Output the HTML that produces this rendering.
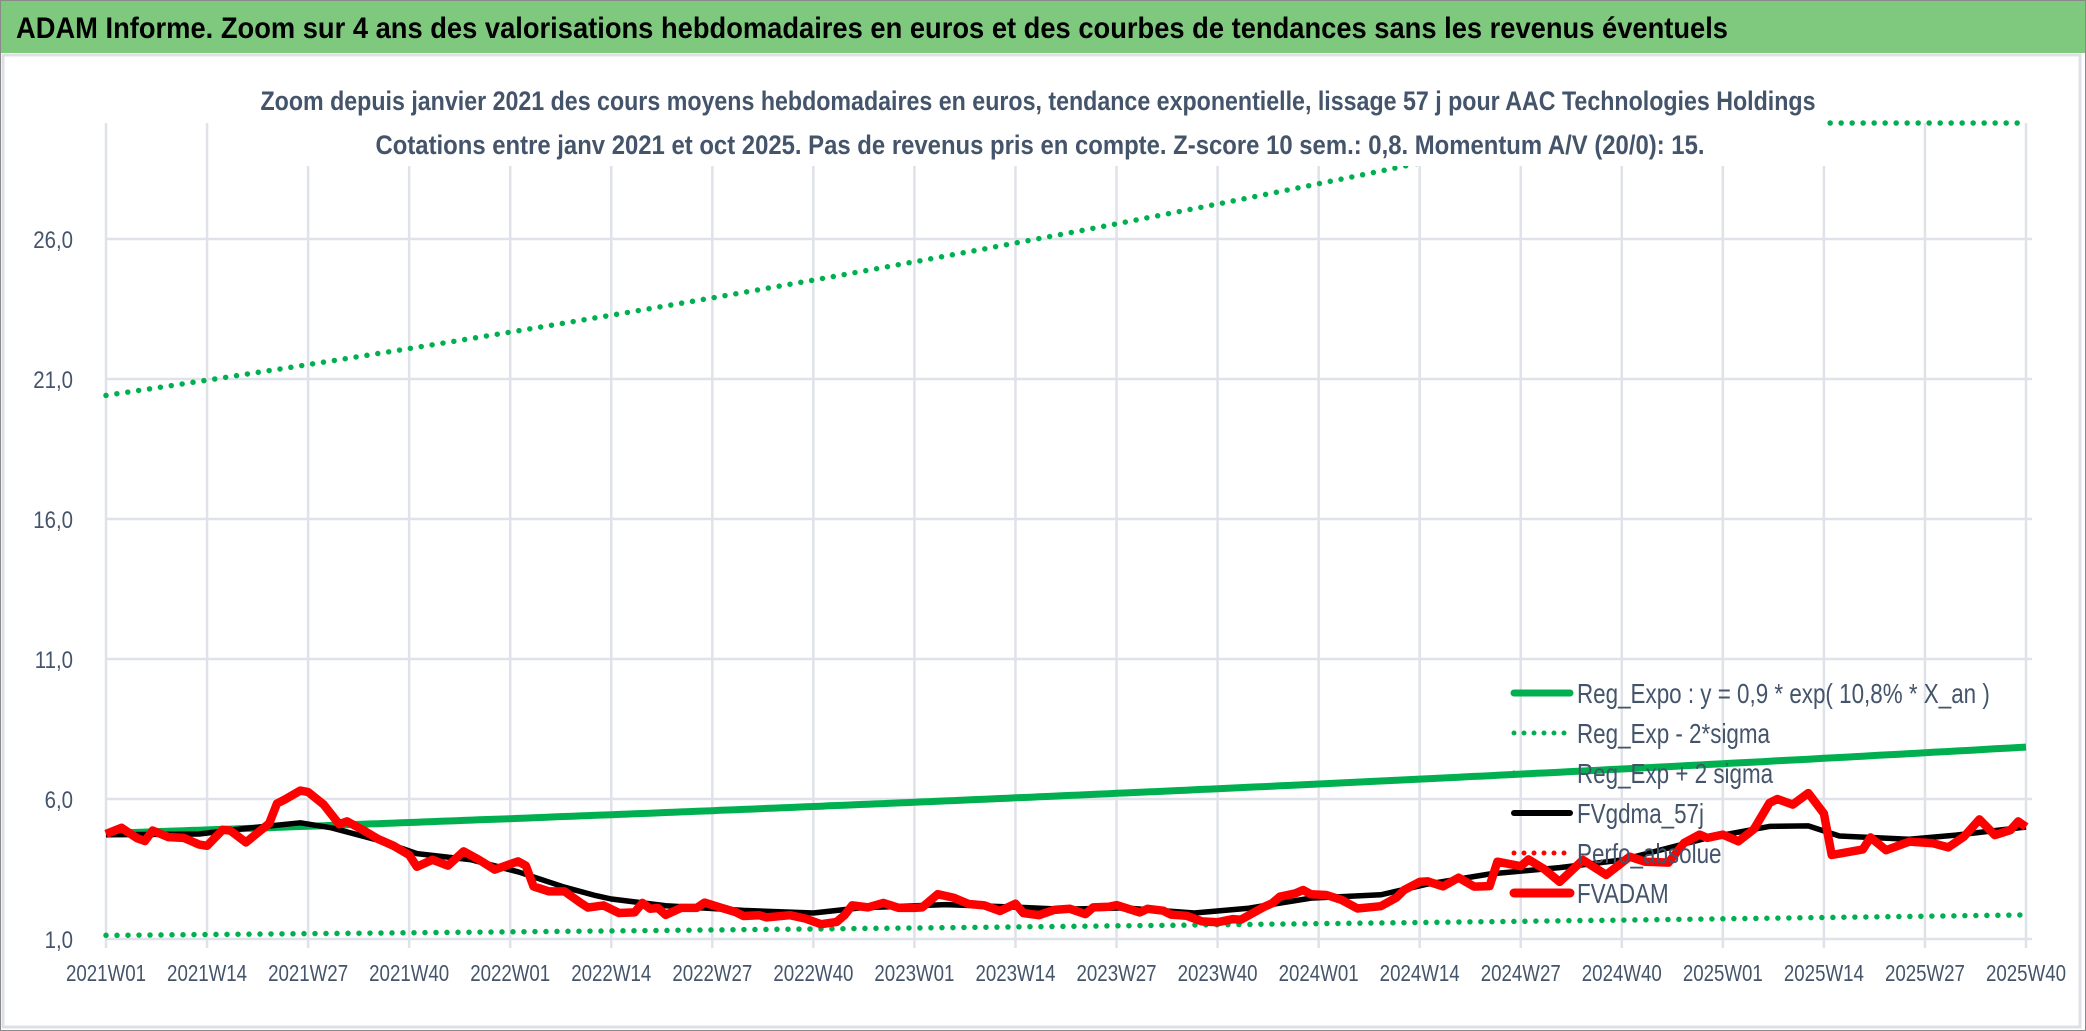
<!DOCTYPE html>
<html><head><meta charset="utf-8"><style>
html,body{margin:0;padding:0;background:#fff;}
svg{display:block;font-family:"Liberation Sans",sans-serif;}
</style></head>
<body>
<svg id="chart" width="2086" height="1031" viewBox="0 0 2086 1031" xmlns="http://www.w3.org/2000/svg">
<rect x="0" y="0" width="2086" height="1031" fill="#fff"/>
<rect x="0.5" y="0.5" width="2085" height="1030" fill="none" stroke="#8a8a8a"/>
<rect x="1" y="1" width="2084" height="52" fill="#7fc97f"/>
<text x="16" y="38" font-size="30" font-weight="bold" fill="#000" textLength="1712" lengthAdjust="spacingAndGlyphs">ADAM Informe. Zoom sur 4 ans des valorisations hebdomadaires en euros et des courbes de tendances sans les revenus éventuels</text>
<rect x="3" y="55" width="2077" height="972" fill="#fff" stroke="#dde0e6" stroke-width="3"/>
<g id="grid"></g>
<g id="series"></g>
<rect x="262" y="72" width="1564" height="94" fill="#fff"/>
<text x="1038" y="110" font-size="27" font-weight="bold" fill="#44546a" text-anchor="middle" textLength="1555" lengthAdjust="spacingAndGlyphs">Zoom depuis janvier 2021 des cours moyens hebdomadaires en euros, tendance exponentielle, lissage 57 j pour AAC Technologies Holdings</text>
<text x="1040" y="154" font-size="27" font-weight="bold" fill="#44546a" text-anchor="middle" textLength="1329" lengthAdjust="spacingAndGlyphs">Cotations entre janv 2021 et oct 2025. Pas de revenus pris en compte. Z-score 10 sem.: 0,8. Momentum A/V (20/0): 15.</text>
<g id="axes"></g>
<g id="legend"></g>
</svg>
<script>
// ---- data ----
var xTickLabels = ["2021W01","2021W14","2021W27","2021W40","2022W01","2022W14","2022W27","2022W40","2023W01","2023W14","2023W27","2023W40","2024W01","2024W14","2024W27","2024W40","2025W01","2025W14","2025W27","2025W40"];
var yTickValues = [1,6,11,16,21,26];
var yTickLabels = ["1,0","6,0","11,0","16,0","21,0","26,0"];
var weekCount = 248;
var regStart = [4.77];
var regRatePerYear = [0.105];
var lowerFactor = [0.237];
var upperFactor = [4.28];
var fvWeeks = [0,2,4,5,6,8,10,12,13,15,16,18,21,22,23,25,26,28,30,31,33,35,37,39,40,42,44,46,48,50,53,54,55,57,59,61,62,64,66,68,69,70,71,72,74,76,77,79,81,82,84,85,88,90,92,94,95,96,98,100,102,104,105,107,109,111,113,115,117,118,120,122,124,126,127,129,130,133,134,136,137,139,141,143,145,146,149,150,151,153,154,155,157,159,161,164,166,167,169,170,172,174,176,178,179,182,183,185,187,190,193,196,198,201,203,205,206,208,210,212,214,215,217,219,221,222,226,227,229,232,235,237,239,241,243,245,246,247];
var fvValues = [4.75,4.97,4.6,4.5,4.87,4.64,4.61,4.37,4.33,4.9,4.87,4.45,5.13,5.84,5.98,6.3,6.25,5.8,5.1,5.2,4.9,4.57,4.33,4.0,3.58,3.83,3.62,4.13,3.83,3.48,3.77,3.62,2.88,2.7,2.7,2.3,2.12,2.2,1.93,1.95,2.29,2.08,2.11,1.86,2.11,2.11,2.3,2.13,1.96,1.82,1.85,1.77,1.85,1.73,1.53,1.61,1.85,2.2,2.13,2.29,2.11,2.11,2.13,2.6,2.48,2.25,2.2,2.0,2.26,1.93,1.85,2.04,2.08,1.89,2.13,2.15,2.21,1.95,2.08,2.01,1.87,1.83,1.63,1.6,1.71,1.69,2.15,2.27,2.51,2.63,2.75,2.6,2.57,2.39,2.09,2.17,2.48,2.75,3.04,3.06,2.88,3.19,2.87,2.89,3.76,3.6,3.84,3.5,3.04,3.82,3.29,3.94,3.76,3.73,4.43,4.73,4.61,4.73,4.49,4.92,5.86,6.0,5.8,6.21,5.48,4.0,4.2,4.63,4.17,4.48,4.42,4.27,4.65,5.27,4.71,4.89,5.2,5.0];
var maWeeks = [0,12,18,25,29,35,40,47,53,59,63,65,72,82,91,97,108,117,123,131,140,147,155,164,170,178,187,195,206,214,219,223,232,238,247];
var maValues = [4.72,4.75,4.95,5.15,4.97,4.53,4.05,3.83,3.4,2.85,2.55,2.43,2.19,2.02,1.93,2.11,2.23,2.14,2.06,2.11,1.93,2.1,2.46,2.58,2.96,3.32,3.55,3.82,4.61,5.02,5.04,4.68,4.56,4.71,5.0];
var legendLabels = ["Reg_Expo : y = 0,9 * exp( 10,8% *  X_an )","Reg_Exp - 2*sigma","Reg_Exp + 2 sigma","FVgdma_57j","Perfo_absolue","FVADAM"];

// ---- scales ----
var X0 = 106, X1 = 2026, Y1 = 939, YTOP = 123, PXPER = 28;
var yMax = 1 + (Y1 - YTOP) / PXPER;
function xs(i){ return X0 + i * (X1 - X0) / (weekCount - 1); }
function ys(v){ return Y1 - (Math.min(v, yMax) - 1) * PXPER; }
var NS = "http://www.w3.org/2000/svg";
function mk(tag, parent){ var e = document.createElementNS(NS, tag); parent.appendChild(e); return e; }
function narrow(t, f){ var w = t.getComputedTextLength(); t.setAttribute('textLength', (w * f).toFixed(1)); t.setAttribute('lengthAdjust', 'spacingAndGlyphs'); }
var grid = document.getElementById('grid'), series = document.getElementById('series'), axes = document.getElementById('axes'), legend = document.getElementById('legend');

yTickValues.forEach(function(v, k){
  var l = mk('line', grid);
  
  
  l.setAttribute('x1', X0); l.setAttribute('x2', 2032); l.setAttribute('y1', ys(v)); l.setAttribute('y2', ys(v));
  l.setAttribute('stroke', '#dfe2e8'); l.setAttribute('stroke-width', 2.5);
  var t = mk('text', axes);
  
  
  t.setAttribute('x', 73); t.setAttribute('y', ys(v) + 9); t.setAttribute('text-anchor', 'end');
  t.setAttribute('font-size', 24); t.setAttribute('fill', '#44546a');
  t.textContent = yTickLabels[k];
  narrow(t, 0.85);
});
xTickLabels.forEach(function(s, k){
  var x = xs(k * 13);
  var l = mk('line', grid);
  
  
  l.setAttribute('x1', x); l.setAttribute('x2', x); l.setAttribute('y1', YTOP); l.setAttribute('y2', 948);
  l.setAttribute('stroke', '#dfe2e8'); l.setAttribute('stroke-width', 2.5);
  var t = mk('text', axes);
  
  
  t.setAttribute('x', x); t.setAttribute('y', 981); t.setAttribute('text-anchor', 'middle');
  t.setAttribute('font-size', 23); t.setAttribute('fill', '#44546a');
  t.setAttribute('textLength', 80); t.setAttribute('lengthAdjust', 'spacingAndGlyphs');
  t.textContent = s;
});

function pathFrom(ws, vs){ return ws.map(function(w, k){ return (k ? 'L' : 'M') + xs(w).toFixed(1) + ',' + ys(vs[k]).toFixed(1); }).join(''); }
var allWeeks = [], regVals = [], lowVals = [], upVals = [];
for (var i = 0; i < weekCount; i++){
  allWeeks.push(i);
  var r = regStart[0] * Math.exp(regRatePerYear[0] * i / 52);
  regVals.push(r); lowVals.push(r * lowerFactor[0]); upVals.push(r * upperFactor[0]);
}
var dotted = {'stroke-dasharray':'0 11','stroke-linecap':'round'};
function addPath(name, d, color, w, extra){
  var p = mk('path', series);
  
  
  p.setAttribute('d', d); p.setAttribute('fill', 'none'); p.setAttribute('stroke', color);
  p.setAttribute('stroke-width', w); p.setAttribute('stroke-linejoin', 'round');
  if (extra) for (var k in extra) p.setAttribute(k, extra[k]);
}
addPath('reg-exp-plus-2sigma-line', pathFrom(allWeeks, upVals), '#00b050', 5.5, dotted);
addPath('reg-exp-minus-2sigma-line', pathFrom(allWeeks, lowVals), '#00b050', 5.5, dotted);
addPath('reg-expo-line', pathFrom(allWeeks, regVals), '#00b050', 7);
addPath('fvgdma-57j-line', pathFrom(maWeeks, maValues), '#000', 5.5);
addPath('fvadam-line', pathFrom(fvWeeks, fvValues), '#ff0000', 8.5);

var legStyles = [['#00b050',7,null],['#00b050',5,dotted],['#00b050',5,dotted],['#000',6,null],['#ff0000',5,dotted],['#ff0000',9,null]];
legendLabels.forEach(function(s, k){
  var y = 693 + k * 40;
  var l = mk('line', legend);
  
  
  l.setAttribute('x1', 1514); l.setAttribute('x2', 1570); l.setAttribute('y1', y); l.setAttribute('y2', y);
  l.setAttribute('stroke', legStyles[k][0]); l.setAttribute('stroke-width', legStyles[k][1]);
  if (legStyles[k][2]){ l.setAttribute('stroke-dasharray', '0 10'); }
  l.setAttribute('stroke-linecap', 'round');
  var t = mk('text', legend);
  
  
  t.setAttribute('x', 1577); t.setAttribute('y', y + 10);
  t.setAttribute('font-size', 28); t.setAttribute('fill', '#44546a');
  t.textContent = s;
  narrow(t, 0.8);
});
</script>
</body></html>
